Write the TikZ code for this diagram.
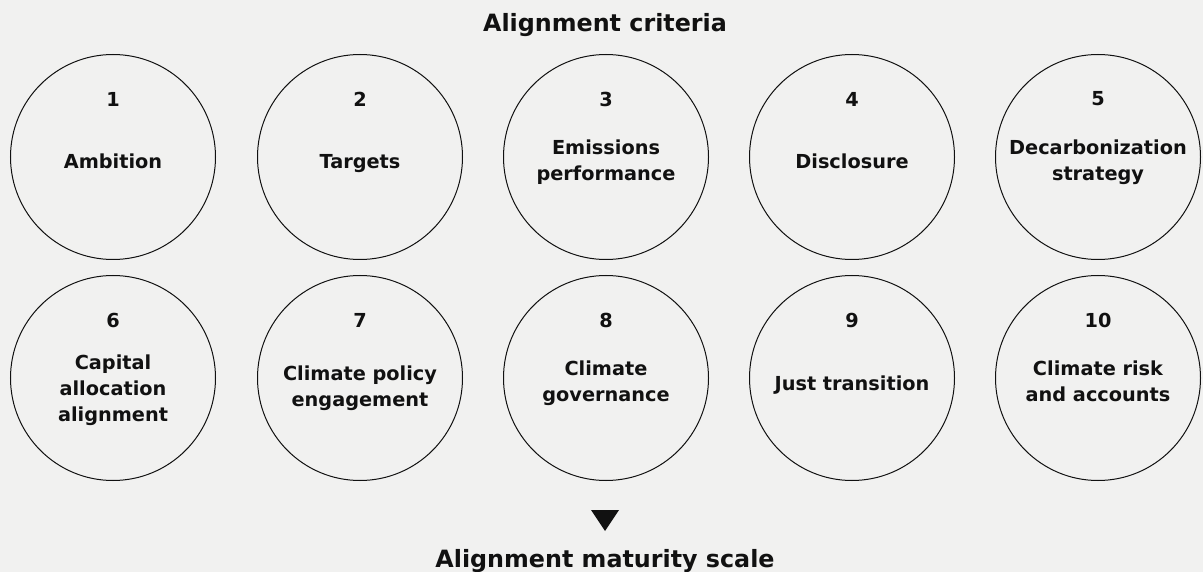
\documentclass[tikz,border=0pt]{standalone}
\usepackage{fontspec}
\setmainfont{DejaVu Sans}
\definecolor{bgcol}{HTML}{F1F1F0}
\definecolor{inkcol}{HTML}{111111}
\begin{document}
\begin{tikzpicture}[x=1pt,y=-1pt,
  crit/.style={circle,draw=inkcol,line width=1pt,minimum size=205pt,inner sep=0pt},
  numlab/.style={font=\bfseries\fontsize{19.3}{26}\selectfont,text=inkcol},
  critlab/.style={font=\bfseries\fontsize{19.3}{26}\selectfont,text=inkcol,align=center},
  heading/.style={font=\bfseries\fontsize{23.8}{28}\selectfont,text=inkcol}]
\fill[bgcol] (0,0) rectangle (1203,572);
\useasboundingbox (0,0) rectangle (1203,572);

\node[heading] (top) at (605,25) {Alignment criteria};

% criteria circles, two rows of five; \dy shifts the label below the centre
\foreach \i/\x/\y/\dy/\txt in {
  1/113/157/4/{Ambition},
  2/360/157/7/{Targets},
  3/606/157/5/{Emissions\\performance},
  4/852/157/4/{Disclosure},
  5/1098/157/5/{Decarbonization\\strategy},
  6/113/378/12/{Capital\\allocation\\alignment},
  7/360/378/10/{Climate policy\\engagement},
  8/606/378/5/{Climate\\governance},
  9/852/378/7/{Just transition},
  10/1098/378/3/{Climate risk\\and accounts}}{
  \node[crit] (c\i) at (\x,\y) {};
  \node[numlab] (n\i) at ([yshift=58pt]c\i.center) {\i};
  \node[critlab] (t\i) at ([yshift=-\dy pt]c\i.center) {\txt};
}

\fill[inkcol] (591,510) -- (619,510) -- (605,531) -- cycle;
\node[heading] (bottom) at (605,561) {Alignment maturity scale};
\end{tikzpicture}
\end{document}
